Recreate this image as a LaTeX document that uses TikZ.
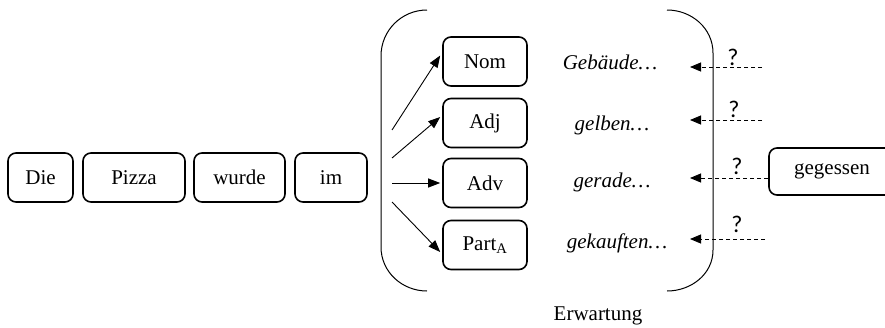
\documentclass[tikz,border=0pt]{standalone}
\usepackage{fontspec}
\setmainfont{Liberation Serif}
\newfontfamily\qfont{Carlito}
\usetikzlibrary{arrows.meta}
\begin{document}
\begin{tikzpicture}[x=1pt,y=-1pt,
  font=\fontsize{21}{25}\selectfont,
  wordbox/.style={draw,line width=1.6pt,rounded corners=8pt,minimum height=49pt,inner sep=0pt},
  catbox/.style={wordbox,minimum width=84pt},
  expect/.style={font=\fontsize{21}{25}\selectfont\itshape,anchor=base},
  qmark/.style={font=\fontsize{24}{28}\selectfont\qfont,anchor=base,inner sep=0pt},
  solidarrow/.style={line width=0.9pt,-{Triangle[length=12pt,width=9pt]}},
  dasharrow/.style={line width=0.9pt,dash pattern=on 4pt off 3pt,-{Triangle[length=11pt,width=9pt]}},
  bracket/.style={line width=1pt}]
\clip (0,0) rectangle (885,327);
\useasboundingbox (0,0) rectangle (885,327);

% sentence so far
\node[wordbox,minimum width=65pt]  (die)   at (40.5,177.5) {Die};
\node[wordbox,minimum width=102pt] (pizza) at (134,177.5)  {Pizza};
\node[wordbox,minimum width=91pt]  (wurde) at (239.5,177.5){wurde};
\node[wordbox,minimum width=72pt]  (im)    at (331,177.5)  {im};

% expected categories
\node[catbox] (nom)  at (485,61.5) {Nom};
\node[catbox] (adj)  at (485,123)  {Adj};
\node[catbox] (adv)  at (485,183)  {Adv};
\node[catbox] (part) at (485,245)  {Part\textsubscript{A}};

% example continuations
\node[expect] (gebaude)   at (610,69)  {Gebäude…};
\node[expect] (gelben)    at (612,130) {gelben…};
\node[expect] (gerade)    at (612,187) {gerade…};
\node[expect] (gekauften) at (617,248) {gekauften…};

% actual next word
\node[wordbox,minimum width=126pt,minimum height=47pt] (gegessen) at (832,171.5) {gegessen};

% brackets around the expectation set
\draw[bracket] (427,10) to[out=180,in=90] (381,56) -- (381,247) to[out=-90,in=180] (427,291);
\draw[bracket] (667,10) to[out=0,in=90] (713,53) -- (713,250) to[out=-90,in=0] (667,291);
\node (erw) at (598,316) {Erwartung};

% forward arrows into the categories
\coordinate (s1) at (392,130);
\coordinate (s2) at (392,158);
\coordinate (s3) at (392,183);
\coordinate (s4) at (392,202);
\draw[solidarrow] (s1) -- ([shift={(-2,-6)}]nom.west);
\draw[solidarrow] (s2) -- ([shift={(-2,-6)}]adj.west);
\draw[solidarrow] (s3) -- ([shift={(-2,0)}]adv.west);
\draw[solidarrow] (s4) -- ([shift={(-2,7)}]part.west);

% dashed back arrows
\coordinate (t1) at (690,67);
\coordinate (t2) at (690,120);
\coordinate (t3) at (690,178);
\coordinate (t4) at (690,239);
\coordinate (r1) at (762,67);
\coordinate (r2) at (762,120);
\coordinate (r4) at (765,239);
\draw[dasharrow] (r1) -- (t1);
\draw[dasharrow] (r2) -- (t2);
\draw[dasharrow] ([shift={(0,6.5)}]gegessen.west) -- (t3);
\draw[dasharrow] (r4) -- (t4);

\node[qmark] (q1) at (733,65)  {?};
\node[qmark] (q2) at (734,117) {?};
\node[qmark] (q3) at (737,174) {?};
\node[qmark] (q4) at (737,232) {?};
\end{tikzpicture}
\end{document}
